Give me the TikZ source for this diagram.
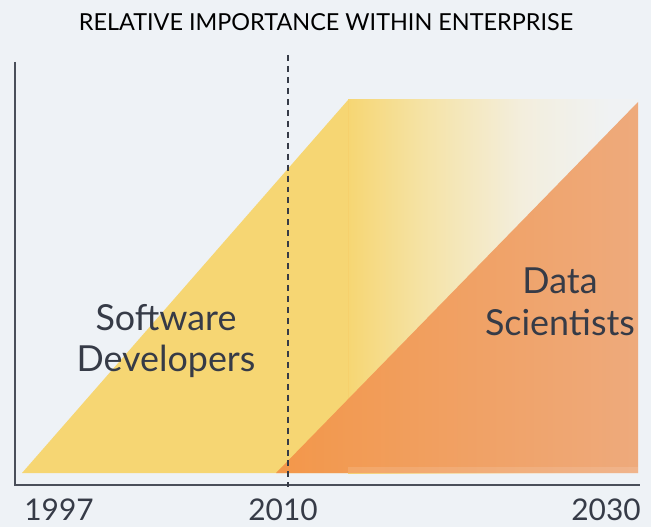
\documentclass[tikz,border=0pt]{standalone}
\usepackage{fontspec}
\setmainfont{Lato}
\definecolor{bg}{HTML}{EEF2F6}
\definecolor{ylw}{HTML}{F6D673}
\definecolor{ylwB}{HTML}{F5E3A6}
\definecolor{ylwC}{HTML}{F3EEDD}
\definecolor{fadeE}{HTML}{F0F2F3}
\definecolor{orgL}{HTML}{F3974A}
\definecolor{orgR}{HTML}{EEAA7C}
\definecolor{ink}{HTML}{363B47}
\definecolor{axis}{HTML}{4A4F5A}
\pgfdeclarehorizontalshading{ylwfade}{100bp}{color(0bp)=(ylw); color(25bp)=(ylw); color(38bp)=(ylwB); color(55bp)=(ylwC); color(70bp)=(fadeE); color(75bp)=(fadeE); color(100bp)=(fadeE)}
\tikzset{
  lbl/.style={font=\fontsize{30}{34}\selectfont, text=ink, inner sep=0pt},
  big/.style={font=\fontsize{36}{42}\selectfont, text=ink, align=center, inner sep=0pt},
  axisline/.style={draw=axis, line width=1.6pt},
}
\begin{document}
\begin{tikzpicture}[x=1bp,y=-1bp]
\fill[bg] (0,0) rectangle (651,527);
\useasboundingbox (0,0) rectangle (651,527);
% yellow area
\fill[ylw] (22,473) -- (348,100) -- (348,473) -- cycle;
\shade[shading=ylwfade] (348,100) rectangle (638,473);
\draw[ylw!80!orange, opacity=0.25, line width=0.8pt] (348,101) -- (348,473);
% orange triangle
\shade[left color=orgL, right color=orgR] (276,473) -- (638,102) -- (638,473) -- cycle;
\fill[white, opacity=0.12] (348,467) rectangle (638,473);
% axes
\coordinate (ytop) at (15,62);
\coordinate (orig) at (15,485);
\coordinate (xend) at (640,485);
\draw[axisline] (ytop) -- (orig) -- (xend);
% dashed 2010 line
\coordinate (dtop) at (288,55);
\coordinate (dbot) at (288,487);
\draw[ink, line width=1.4pt, dash pattern=on 6pt off 5pt] (dtop) -- (dbot);
% texts
\node[font=\fontsize{23.5}{28}\selectfont, text=black, inner sep=0pt] (title) at (326,22) {RELATIVE IMPORTANCE WITHIN ENTERPRISE};
\node[lbl] (y1997) at (59,510) {1997};
\node[lbl] (y2010) at (283,510) {2010};
\node[lbl] (y2030) at (606,510) {2030};
\node[big] (sd) at (166,341) {Software\\Developers};
\node[big] (ds) at (560,302) {Data\\Scientists};
\end{tikzpicture}
\end{document}
